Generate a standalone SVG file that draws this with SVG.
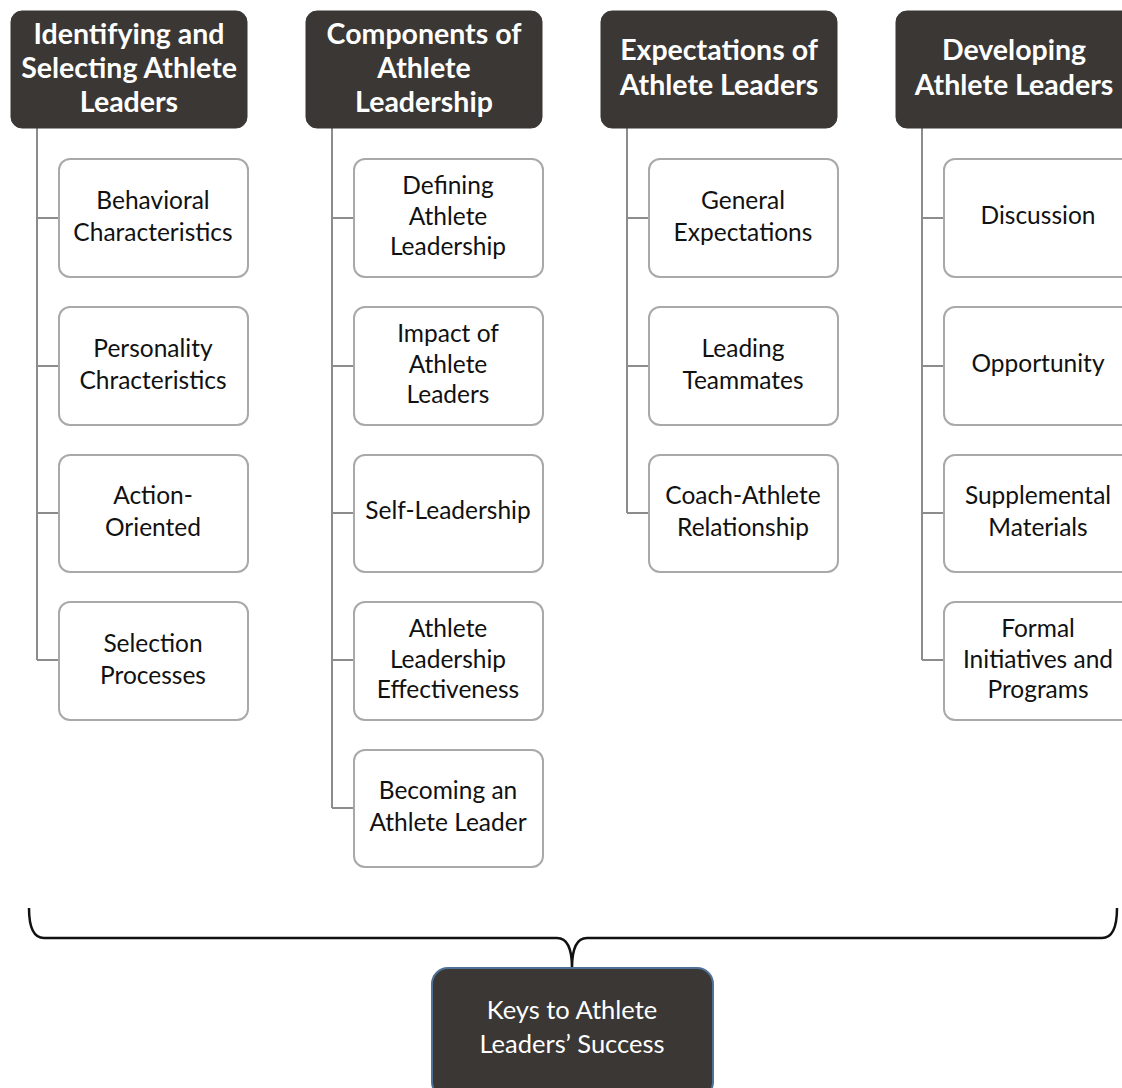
<svg xmlns="http://www.w3.org/2000/svg" width="1122" height="1088" viewBox="0 0 1122 1088">
<style>
.hdr{fill:#3a3735;stroke:#3a3735;stroke-width:1}
.ht{fill:#ffffff;font-family:Lato,"Open Sans",sans-serif;font-size:28.5px;font-weight:bold;text-anchor:middle}
.child{fill:#ffffff;stroke:#a9a9a9;stroke-width:2}
.ct{fill:#111111;font-family:Lato,"Open Sans",sans-serif;font-size:24.5px;text-anchor:middle}
.conn{fill:none;stroke:#8c8c8c;stroke-width:2}
.brace{fill:none;stroke:#111111;stroke-width:2.5}
.key{fill:#3a3735;stroke:#4f7196;stroke-width:2}
.kt{fill:#ffffff;font-family:Lato,"Open Sans",sans-serif;font-size:25.5px;text-anchor:middle}
</style>
<rect width="1122" height="1088" fill="#ffffff"/>
<g id="connectors">
<path class="conn" d="M37,128 V660 M37,218 H59 M37,366 H59 M37,513 H59 M37,660 H59"/>
<path class="conn" d="M332,128 V808 M332,218 H354 M332,366 H354 M332,513 H354 M332,660 H354 M332,808 H354"/>
<path class="conn" d="M627,128 V513 M627,218 H649 M627,366 H649 M627,513 H649"/>
<path class="conn" d="M922,128 V660 M922,218 H944 M922,366 H944 M922,513 H944 M922,660 H944"/>
<path class="brace" d="M29,908 Q29,938 44,938 L557,938 Q572,938 572,968 Q572,938 587,938 L1102,938 Q1117,938 1117,908"/>
</g>
<g id="h1"><rect class="hdr" x="11" y="11" width="236" height="117" rx="11"/>
<text class="ht"><tspan x="129" y="44">Identifying and</tspan><tspan x="129" y="78">Selecting Athlete</tspan><tspan x="129" y="112">Leaders</tspan></text></g>
<g id="h2"><rect class="hdr" x="306" y="11" width="236" height="117" rx="11"/>
<text class="ht"><tspan x="424" y="44">Components of</tspan><tspan x="424" y="78">Athlete</tspan><tspan x="424" y="112">Leadership</tspan></text></g>
<g id="h3"><rect class="hdr" x="601" y="11" width="236" height="117" rx="11"/>
<text class="ht"><tspan x="719" y="60">Expectations of</tspan><tspan x="719" y="95">Athlete Leaders</tspan></text></g>
<g id="h4"><rect class="hdr" x="896" y="11" width="250" height="117" rx="11"/>
<text class="ht"><tspan x="1014" y="60">Developing</tspan><tspan x="1014" y="95">Athlete Leaders</tspan></text></g>

<g id="c1a"><rect class="child" x="59" y="159" width="189" height="118" rx="11"/><text class="ct"><tspan x="153" y="209">Behavioral</tspan><tspan x="153" y="241">Characteristics</tspan></text></g>
<g id="c1b"><rect class="child" x="59" y="307" width="189" height="118" rx="11"/><text class="ct"><tspan x="153" y="357">Personality</tspan><tspan x="153" y="389">Chracteristics</tspan></text></g>
<g id="c1c"><rect class="child" x="59" y="455" width="189" height="117" rx="11"/><text class="ct"><tspan x="153" y="504">Action-</tspan><tspan x="153" y="536">Oriented</tspan></text></g>
<g id="c1d"><rect class="child" x="59" y="602" width="189" height="118" rx="11"/><text class="ct"><tspan x="153" y="652">Selection</tspan><tspan x="153" y="684">Processes</tspan></text></g>

<g id="c2a"><rect class="child" x="354" y="159" width="189" height="118" rx="11"/><text class="ct"><tspan x="448" y="194">Defining</tspan><tspan x="448" y="225">Athlete</tspan><tspan x="448" y="255">Leadership</tspan></text></g>
<g id="c2b"><rect class="child" x="354" y="307" width="189" height="118" rx="11"/><text class="ct"><tspan x="448" y="342">Impact of</tspan><tspan x="448" y="373">Athlete</tspan><tspan x="448" y="403">Leaders</tspan></text></g>
<g id="c2c"><rect class="child" x="354" y="455" width="189" height="117" rx="11"/><text class="ct"><tspan x="448" y="519">Self-Leadership</tspan></text></g>
<g id="c2d"><rect class="child" x="354" y="602" width="189" height="118" rx="11"/><text class="ct"><tspan x="448" y="637">Athlete</tspan><tspan x="448" y="668">Leadership</tspan><tspan x="448" y="698">Effectiveness</tspan></text></g>
<g id="c2e"><rect class="child" x="354" y="750" width="189" height="117" rx="11"/><text class="ct"><tspan x="448" y="799">Becoming an</tspan><tspan x="448" y="831">Athlete Leader</tspan></text></g>

<g id="c3a"><rect class="child" x="649" y="159" width="189" height="118" rx="11"/><text class="ct"><tspan x="743" y="209">General</tspan><tspan x="743" y="241">Expectations</tspan></text></g>
<g id="c3b"><rect class="child" x="649" y="307" width="189" height="118" rx="11"/><text class="ct"><tspan x="743" y="357">Leading</tspan><tspan x="743" y="389">Teammates</tspan></text></g>
<g id="c3c"><rect class="child" x="649" y="455" width="189" height="117" rx="11"/><text class="ct"><tspan x="743" y="504">Coach-Athlete</tspan><tspan x="743" y="536">Relationship</tspan></text></g>

<g id="c4a"><rect class="child" x="944" y="159" width="189" height="118" rx="11"/><text class="ct"><tspan x="1038" y="224">Discussion</tspan></text></g>
<g id="c4b"><rect class="child" x="944" y="307" width="189" height="118" rx="11"/><text class="ct"><tspan x="1038" y="372">Opportunity</tspan></text></g>
<g id="c4c"><rect class="child" x="944" y="455" width="189" height="117" rx="11"/><text class="ct"><tspan x="1038" y="504">Supplemental</tspan><tspan x="1038" y="536">Materials</tspan></text></g>
<g id="c4d"><rect class="child" x="944" y="602" width="189" height="118" rx="11"/><text class="ct"><tspan x="1038" y="637">Formal</tspan><tspan x="1038" y="668">Initiatives and</tspan><tspan x="1038" y="698">Programs</tspan></text></g>

<g id="key"><rect class="key" x="432" y="968" width="281" height="130" rx="16"/>
<text class="kt"><tspan x="572" y="1019">Keys to Athlete</tspan><tspan x="572" y="1053">Leaders’ Success</tspan></text></g>
</svg>
